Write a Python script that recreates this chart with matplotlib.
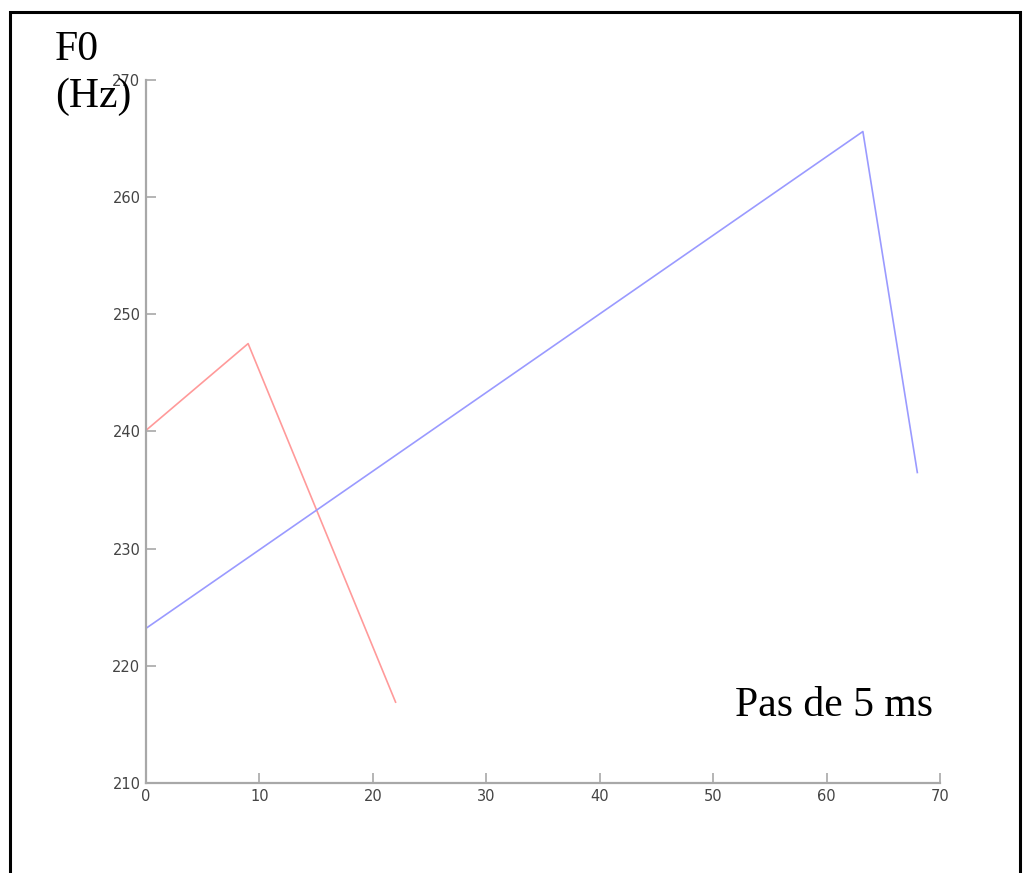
import matplotlib
matplotlib.use("Agg")
import matplotlib.pyplot as plt
from matplotlib.patches import Rectangle

# === Data (x in 5 ms steps, F0 in Hz) ===
red_x = [0, 9, 22]
red_f0 = [240.1, 247.5, 216.9]

blue_x = [0, 63.2, 68]
blue_f0 = [223.2, 265.6, 236.5]

x_ticks = [0, 10, 20, 30, 40, 50, 60, 70]
y_ticks = [210, 220, 230, 240, 250, 260, 270]

fig = plt.figure(figsize=(10.27, 8.73), dpi=100)
ax = fig.add_axes([0.1422, 0.1031, 0.7731, 0.8053])

ax.plot(red_x, red_f0, color="#ff9a9a", linewidth=1.2)
ax.plot(blue_x, blue_f0, color="#9a9aff", linewidth=1.2)

ax.set_xlim(0, 70)
ax.set_ylim(210, 270)
ax.set_xticks(x_ticks)
ax.set_yticks(y_ticks)

for side in ["top", "right"]:
    ax.spines[side].set_visible(False)
for side in ["left", "bottom"]:
    ax.spines[side].set_color("#a8a8a8")
    ax.spines[side].set_linewidth(1.6)

ax.tick_params(direction="in", length=7, width=1.2, color="#a8a8a8",
               labelsize=10.5, labelcolor="#444444", pad=4)

serif = "Liberation Serif"
fig.text(55 / 1027, 1 - 30 / 873, "F0", family=serif, fontsize=30,
         va="top", ha="left")
fig.text(55 / 1027, 1 - 77 / 873, "(Hz)", family=serif, fontsize=30,
         va="top", ha="left")
fig.text(735 / 1027, 1 - 706 / 873, "Pas de 5 ms", family=serif, fontsize=30,
         va="center", ha="left")

# outer black frame (bottom edge falls outside the image)
frame = Rectangle((10 / 1027, -0.05), 1010 / 1027, 1 - 12 / 873 + 0.05,
                  transform=fig.transFigure, fill=False,
                  edgecolor="black", linewidth=2.2)
fig.patches.append(frame)

fig.savefig("out.png", dpi=100)
